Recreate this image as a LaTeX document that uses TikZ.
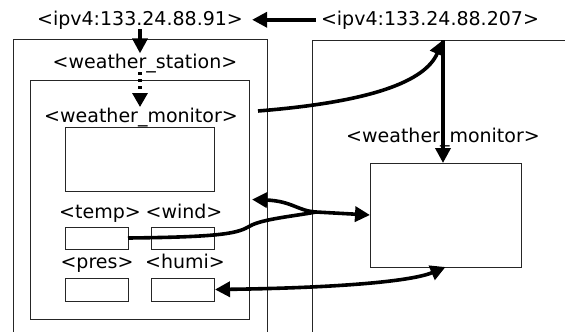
\documentclass[tikz,border=0pt]{standalone}
\usepackage{fontspec}
\setmainfont{DejaVu Sans}
\usetikzlibrary{arrows.meta}
\begin{document}
\begin{tikzpicture}[x=1pt,y=-1pt,
  frame/.style={draw=black!85, line width=0.8pt, inner sep=0pt, outer sep=0pt},
  lbl/.style={inner sep=0pt, anchor=base, font=\fontsize{19}{22}\selectfont},
  link/.style={line width=3.6pt, -{Triangle[length=15pt,width=15pt]}},
  twoway/.style={line width=3.6pt, {Triangle[length=15pt,width=15pt]}-{Triangle[length=15pt,width=15pt]}},
  dotlink/.style={line width=3.2pt, dash pattern=on 3pt off 4pt, -{Triangle[length=14pt,width=15pt]}}]
\useasboundingbox (0,0) rectangle (565,332);
\clip (0,0) rectangle (565,332);
\fill[white] (0,0) rectangle (565,332);

% hosts
\node[frame, minimum width=254pt, minimum height=306pt] (station) at (140,192) {};
\node[frame, minimum width=290pt, minimum height=306pt] (hostR) at (457,193) {};

% address labels
\node[lbl] (ip91) at (140,25) {<ipv4:133.24.88.91>};
\node[lbl] (ip207) at (430,25) {<ipv4:133.24.88.207>};

% weather station with its monitor
\node[lbl] (stationlbl) at (145,68) {<weather\_station>};
\node[frame, minimum width=219pt, minimum height=239pt] (monitorL) at (139.5,199.5) {};
\node[lbl] (monlblL) at (141,122) {<weather\_monitor>};
\node[frame, minimum width=149pt, minimum height=64pt] (display) at (139.5,159) {};

% sensors
\node[lbl] (templbl) at (100,218) {<temp>};
\node[lbl] (windlbl) at (184,218) {<wind>};
\node[lbl] (preslbl) at (97,268) {<pres>};
\node[lbl] (humilbl) at (185,268) {<humi>};
\node[frame, minimum width=63pt, minimum height=22pt] (temp) at (96.5,238) {};
\node[frame, minimum width=63pt, minimum height=22pt] (wind) at (182.5,238) {};
\node[frame, minimum width=63pt, minimum height=23pt] (pres) at (96.5,289.5) {};
\node[frame, minimum width=63pt, minimum height=23pt] (humi) at (182.5,289.5) {};

% remote monitor
\node[lbl] (monlblR) at (443,142) {<weather\_monitor>};
\node[frame, minimum width=151pt, minimum height=104pt] (monitorR) at (445.5,215) {};

% connectors
\coordinate (mig) at (258,111);
\coordinate (entry) at (443,40);
\coordinate (join) at (316,212);

\draw[link] ([xshift=-5pt]ip207.west) -- ([xshift=9pt]ip91.east);
\draw[link] (ip91.south) -- (ip91.south |- stationlbl.north);
\draw[dotlink] (140,72) -- (140,107);
\draw[link] (mig) .. controls (370,102) and (425,82) .. (entry);
\draw[link] (entry) -- (entry |- monitorR.north);
\draw[link] (temp.east) .. controls (225,237) and (238,233) .. (250,226)
  .. controls (262,219) and (295,216) .. (join) -- (monitorR.west);
\draw[link] (join) .. controls (298,211) and (292,201) .. ([xshift=3pt]monitorL.east);
\draw[twoway] ([xshift=1pt]humi.east) .. controls (330,288) and (410,282) .. (monitorR.south);
\end{tikzpicture}
\end{document}
